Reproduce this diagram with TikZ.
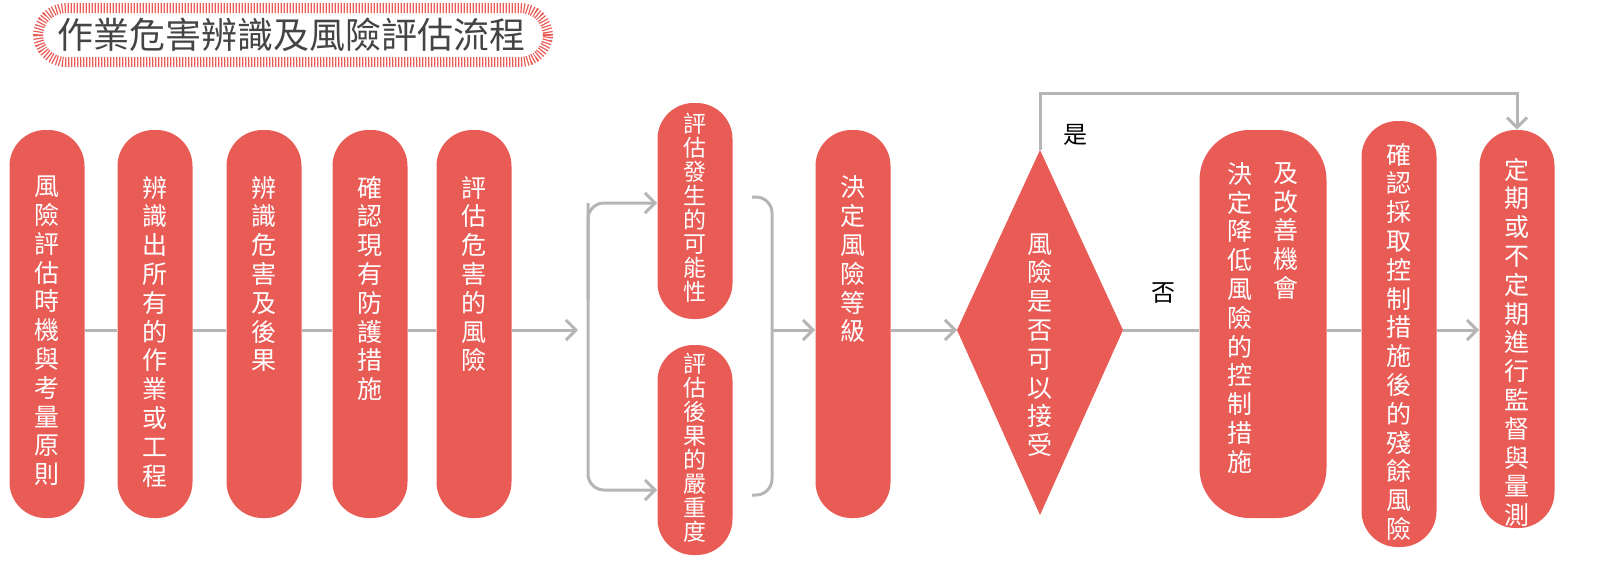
\documentclass[tikz,border=0pt]{standalone}
\usepackage{fontspec}
\newfontfamily\cjk{Noto Sans CJK TC}
\usetikzlibrary{arrows.meta, positioning}
\definecolor{boxred}{HTML}{E95B55}
\definecolor{linegray}{HTML}{B5B5B5}
\definecolor{titlegray}{HTML}{444444}
\tikzset{
    stepbox/.style={fill=boxred, rounded corners=18pt, minimum width=37.5pt, inner sep=0pt},
    vtxt/.style={text=white, align=center, inner sep=0pt, font=\cjk\fontsize{12.5}{14.4}\selectfont},
    vsmall/.style={vtxt, font=\cjk\fontsize{11.5}{12}\selectfont},
    flow/.style={draw=linegray, line width=1.5pt, -{Straight Barb[length=5pt, width=10pt]}},
    plain/.style={draw=linegray, line width=1.5pt} }

\begin{document}
\begin{tikzpicture}[x=0.5pt, y=-0.5pt]
    % title
    \draw[boxred, line width=5pt, dash pattern=on 0.6pt off 0.9pt, rounded corners=14pt]
        (38,8) rectangle (548,62);
    \node[text=titlegray, font=\cjk\fontsize{18}{20}\selectfont] (title) at (291,35) {作業危害辨識及風險評估流程};
    % boxes
    \node[stepbox, minimum height=194pt] (b1) at (47,324) {};
    \node[stepbox, minimum height=194pt] (b2) at (155,324) {};
    \node[stepbox, minimum height=194pt] (b3) at (264,324) {};
    \node[stepbox, minimum height=194pt] (b4) at (370,324) {};
    \node[stepbox, minimum height=194pt] (b5) at (474,324) {};
    \node[stepbox, minimum height=108pt] (b6) at (695,211) {};
    \node[stepbox, minimum height=105pt] (b7) at (695,450) {};
    \node[stepbox, minimum height=194pt] (b8) at (853,324) {};
    \node[stepbox, minimum height=194pt, minimum width=63.5pt, rounded corners=25pt] (b9) at (1263,324) {};
    \node[stepbox, minimum height=213pt] (b10) at (1399,334) {};
    \node[stepbox, minimum height=199pt] (b11) at (1517,329) {};
    \fill[boxred] (1040,150) -- (1123,330) -- (1040,515) -- (957,330) -- cycle;
    \coordinate (dtop) at (1040,150);
    \coordinate (dright) at (1123,330);
    \coordinate (dleft) at (957,330);
    \coordinate (mid) at (0,330);
    % texts
    \node[vtxt, below=23pt of b1.north, anchor=north] (t1) {風\\險\\評\\估\\時\\機\\與\\考\\量\\原\\則};
    \node[vtxt, below=23pt of b2.north, anchor=north] (t2) {辨\\識\\出\\所\\有\\的\\作\\業\\或\\工\\程};
    \node[vtxt, below=23pt of b3.north, anchor=north] (t3) {辨\\識\\危\\害\\及\\後\\果};
    \node[vtxt, below=23pt of b4.north, anchor=north] (t4) {確\\認\\現\\有\\防\\護\\措\\施};
    \node[vtxt, below=23pt of b5.north, anchor=north] (t5) {評\\估\\危\\害\\的\\風\\險};
    \node[vsmall, below=5pt of b6.north, anchor=north] (t6) {評\\估\\發\\生\\的\\可\\能\\性};
    \node[vsmall, below=4pt of b7.north, anchor=north] (t7) {評\\估\\後\\果\\的\\嚴\\重\\度};
    \node[vtxt, below=23pt of b8.north, anchor=north] (t8) {決\\定\\風\\險\\等\\級};
    \node[vtxt] (t9) at (1040,345) {風\\險\\是\\否\\可\\以\\接\\受};
    \node[vtxt, anchor=north] (t9a) at (1240,162) {決\\定\\降\\低\\風\\險\\的\\控\\制\\措\\施};
    \node[vtxt, anchor=north] (t9b) at (1286,162) {及\\改\\善\\機\\會};
    \node[vtxt, below=11pt of b10.north, anchor=north] (t10) {確\\認\\採\\取\\控\\制\\措\\施\\後\\的\\殘\\餘\\風\\險};
    \node[vtxt, below=14pt of b11.north, anchor=north] (t11) {定\\期\\或\\不\\定\\期\\進\\行\\監\\督\\與\\量\\測};
    % connectors
    \draw[plain] (b1.east |- mid) -- (b2.west |- mid);
    \draw[plain] (b2.east |- mid) -- (b3.west |- mid);
    \draw[plain] (b3.east |- mid) -- (b4.west |- mid);
    \draw[plain] (b4.east |- mid) -- (b5.west |- mid);
    \coordinate (split) at (578,330);
    \draw[flow] (b5.east |- mid) -- (split);
    \coordinate (s1) at (588,203);
    \draw[flow, rounded corners=8pt] (s1) -- (588,490) -- (b7.west |- 0,490);
    \draw[flow, rounded corners=8pt] (588,300) -- (s1) -- (b6.west |- s1);
    \draw[plain, rounded corners=8pt] (752,197) -- (772,197) -- (772,495) -- (752,495);
    \coordinate (merge) at (772,330);
    \draw[flow] (merge) -- (b8.west |- merge);
    \draw[flow] (b8.east |- mid) -- (dleft);
    \draw[plain] (dright) -- (b9.west |- mid);
    \draw[plain] (b9.east |- mid) -- (b10.west |- mid);
    \draw[flow] (b10.east |- mid) -- (b11.west |- mid);
    \draw[flow] (dtop) -- (1040,93) -- (b11.north |- 0,93) -- (b11.north);
    \node[font=\cjk\fontsize{12}{14}\selectfont] (yes) at (1075,135) {是};
    \node[font=\cjk\fontsize{12}{14}\selectfont] (no) at (1163,293) {否};
    \pgfresetboundingbox
    \path[use as bounding box] (0,0) rectangle (1600,569);
\end{tikzpicture}
\end{document}
